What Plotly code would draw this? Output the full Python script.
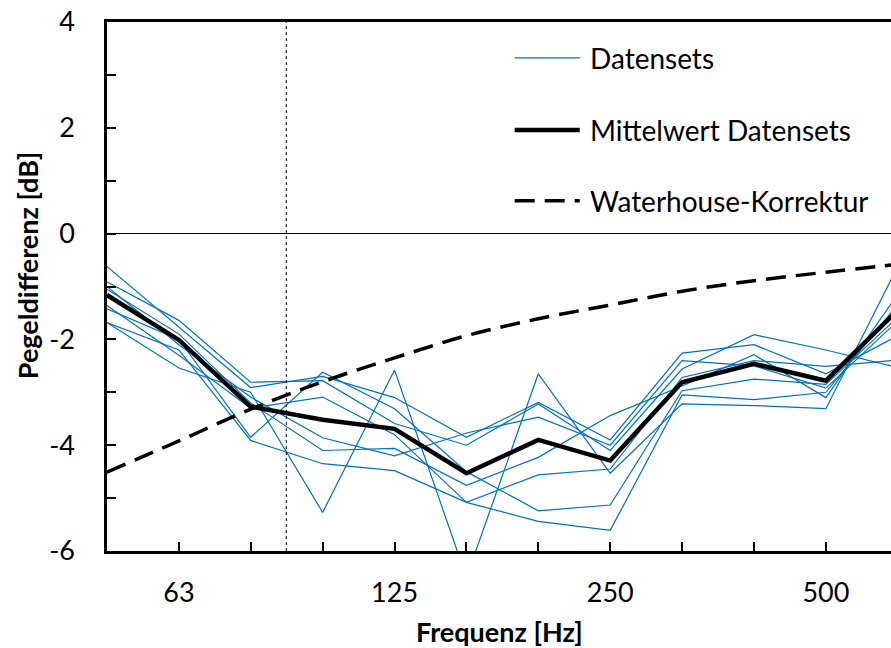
import math
import plotly.graph_objects as go

# Terzband-Mittenfrequenzen (Hz) und Beschriftung
band_labels = ["50", "63", "80", "100", "125", "160", "200", "250", "315", "400", "500", "630"]
band_freqs = [50.1, 63.1, 79.4, 100.0, 125.9, 158.5, 199.5, 251.2, 316.2, 398.1, 501.2, 631.0]
shown_labels = ["63", "125", "250", "500"]

# Pegeldifferenz der einzelnen Datensets [dB]
datenset_1 = [-0.62, -1.77, -2.91, -2.70, -3.10, -3.85, -3.19, -3.90, -2.26, -2.10, -2.65, -1.93]
datenset_2 = [-0.91, -1.64, -2.81, -2.78, -3.59, -4.00, -3.22, -4.10, -2.56, -1.91, -2.20, -2.53]
datenset_3 = [-1.00, -2.10, -3.09, -3.86, -4.20, -3.77, -3.47, -4.00, -2.40, -2.50, -2.92, -1.65]
datenset_4 = [-1.05, -1.90, -3.20, -4.10, -4.06, -4.76, -4.23, -3.44, -2.88, -2.29, -3.10, -1.14]
datenset_5 = [-1.36, -2.30, -3.30, -3.09, -3.80, -5.08, -4.56, -4.45, -2.72, -2.40, -2.51, -2.39]
datenset_6 = [-1.42, -2.00, -3.85, -2.62, -3.31, -4.50, -5.24, -5.13, -2.97, -2.75, -2.85, -1.58]
datenset_7 = [-1.68, -2.20, -3.91, -4.35, -4.48, -5.08, -5.44, -5.61, -3.05, -3.14, -3.00, -1.34]
datenset_8 = [-1.68, -2.54, -3.00, -5.27, -2.58, -6.50, -2.65, -4.53, -3.22, -3.25, -3.31, -0.62]
datensets = [datenset_1, datenset_2, datenset_3, datenset_4,
             datenset_5, datenset_6, datenset_7, datenset_8]

mittelwert = [-1.16, -2.01, -3.27, -3.52, -3.69, -4.53, -3.90, -4.29, -2.81, -2.46, -2.78, -1.45]
waterhouse = [-4.51, -3.92, -3.32, -2.80, -2.35, -1.93, -1.61, -1.35, -1.09, -0.89, -0.73, -0.58]

grenzfrequenz = 89  # gepunktete Linie
y_ticks = [-6, -5, -4, -3, -2, -1, 0, 1, 2, 3, 4]

FONT = "Lato, Carlito, Calibri, sans-serif"
BLUE = "#0070C0"

fig = go.Figure()

for werte in datensets:
    fig.add_trace(go.Scatter(x=band_freqs, y=werte, mode="lines",
                             line=dict(color=BLUE, width=1.2),
                             name="Datensets", showlegend=False))

fig.add_trace(go.Scatter(x=band_freqs, y=mittelwert, mode="lines",
                         line=dict(color="black", width=4.5),
                         name="Mittelwert Datensets", showlegend=False))

fig.add_trace(go.Scatter(x=band_freqs, y=waterhouse, mode="lines",
                         line=dict(color="black", width=3.5, dash="20px,10px", shape="spline"),
                         name="Waterhouse-Korrektur", showlegend=False))

# vertikale gepunktete Linie
fig.add_shape(type="line", x0=grenzfrequenz, x1=grenzfrequenz, xref="x",
              y0=0, y1=1, yref="paper",
              line=dict(color="black", width=1, dash="dot"))

# Legende von Hand (laengere Linienmuster wie im Original)
legend_items = [
    ("Datensets", dict(color=BLUE, width=1.2)),
    ("Mittelwert Datensets", dict(color="black", width=4.5)),
    ("Waterhouse-Korrektur", dict(color="black", width=3.5, dash="20px,10px")),
]
legend_y = [0.932, 0.796, 0.662]
for (txt, ln), ly in zip(legend_items, legend_y):
    fig.add_shape(type="line", xref="paper", yref="paper",
                  x0=0.520, x1=0.603, y0=ly, y1=ly, line=ln)
    fig.add_annotation(xref="paper", yref="paper", x=0.614, y=ly,
                       text=txt, showarrow=False, xanchor="left", yanchor="middle",
                       font=dict(family=FONT, size=28, color="black"))

# Achsentitel
fig.add_annotation(xref="paper", yref="paper", x=-0.101, y=0.54,
                   text="<b>Pegeldifferenz [dB]</b>", textangle=-90, showarrow=False,
                   xanchor="center", yanchor="middle",
                   font=dict(family=FONT, size=27, color="black"))
fig.add_annotation(xref="paper", yref="paper", x=0.5, y=-0.153,
                   text="<b>Frequenz [Hz]</b>", showarrow=False,
                   xanchor="center", yanchor="middle",
                   font=dict(family=FONT, size=27, color="black"))

fig.update_xaxes(
    type="log",
    range=[math.log10(50.12), 2.7906],
    tickvals=band_freqs,
    ticktext=[l if l in shown_labels else "" for l in band_labels],
    ticks="inside", ticklen=9, tickwidth=2, tickcolor="black",
    showline=True, linecolor="black", linewidth=2.5, mirror=True,
    showgrid=False, zeroline=False, automargin=False,
    ticklabelstandoff=16,
    tickfont=dict(family=FONT, size=27, color="black"),
)
fig.update_yaxes(
    range=[-6, 4],
    tickvals=y_ticks,
    ticktext=[str(v) if v % 2 == 0 else "" for v in y_ticks],
    ticks="inside", ticklen=9, tickwidth=2, tickcolor="black",
    showline=True, linecolor="black", linewidth=2.5,
    showgrid=False, automargin=False,
    zeroline=True, zerolinecolor="black", zerolinewidth=1.2,
    ticklabelstandoff=24,
    tickfont=dict(family=FONT, size=27, color="black"),
)

fig.update_layout(
    width=891, height=648,
    margin=dict(l=107, r=0, t=22, b=97, autoexpand=False),
    plot_bgcolor="white", paper_bgcolor="white",
    showlegend=False,
    font=dict(family=FONT, color="black"),
)

# Seitenrand des Browsers entfernen, damit die Grafik genau im Fenster sitzt
fig.write_html("out.html",
               config={"displayModeBar": False},
               post_script="document.body.style.margin='0';"
                           "document.body.style.overflow='hidden';")
